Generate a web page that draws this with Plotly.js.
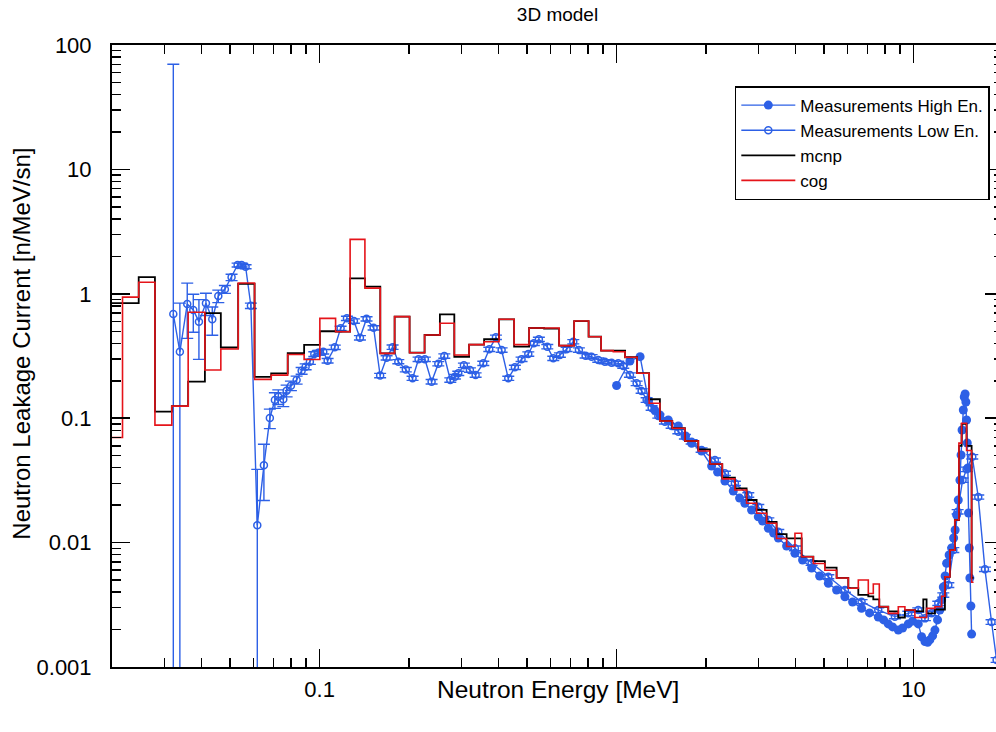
<!DOCTYPE html>
<html>
<head>
<meta charset="utf-8">
<script src="https://cdn.plot.ly/plotly-3.0.1.min.js"></script>
<style>html,body{margin:0;padding:0;overflow:hidden;background:#fff}</style>
</head>
<body>
<div id="chart"></div>
<script>
// ---- Measurements, low-energy detector (MeV, n/MeV/sn, error) ----
const lowEnergy = [0.03217,0.03385,0.03584,0.03756,0.03924,0.04143,0.04352,0.0456,0.04799,0.05054,
0.05296,0.05463,0.05634,0.05871,0.06169,0.06494,0.068,0.07071,0.07261,0.07548,
0.07744,0.08007,0.08368,0.087,0.08974,0.09275,0.09598,0.09899,0.1029,0.1064,
0.1125,0.1177,0.1236,0.1305,0.1367,0.1439,0.152,0.1599,0.1681,0.1761,
0.1841,0.1951,0.2056,0.2154,0.2262,0.2383,0.251,0.263,0.2755,0.2855,
0.2931,0.3061,0.3207,0.3352,0.3558,0.3727,0.3924,0.4101,0.4318,0.4545,
0.4787,0.5043,0.5266,0.5474,0.5843,0.6121,0.6443,0.6787,0.7148,0.7466,
0.7863,0.8237,0.8676,0.9134,0.962,1.013,1.053,1.109,1.168,1.214,
1.262,1.312,1.382,1.454,1.532,1.614,1.698,1.789,1.933,2.143,
2.316,2.502,2.776,3.0,3.243,3.503,3.985,4.535,5.163,5.871,
6.681,7.604,8.65,9.598,10.37,10.92,11.5,12.11,12.59,13.09,
13.61,14.07,14.62,15.08,15.76,16.51,17.39,18.3,19.03,19.8];
const lowFlux = [0.688,0.342,0.828,0.741,0.597,0.839,0.624,0.960,1.087,1.357,
1.704,1.704,1.651,0.802,0.01377,0.0418,0.1004,0.14,0.1489,0.1419,
0.1664,0.1825,0.2028,0.2408,0.2594,0.2846,0.3281,0.3361,0.3424,0.29,
0.3715,0.528,0.6354,0.6044,0.4428,0.6295,0.5329,0.2204,0.3059,0.3722,
0.2846,0.2458,0.2093,0.2976,0.2976,0.1965,0.2742,0.3162,0.2028,0.2157,
0.2296,0.2662,0.244,0.2225,0.2762,0.358,0.447,0.3533,0.2093,0.2565,
0.2976,0.3281,0.4,0.4307,0.3757,0.3031,0.3221,0.358,0.412,0.3533,
0.318,0.3122,0.2937,0.2846,0.2793,0.2762,0.2628,0.2225,0.1908,0.1655,
0.14,0.1208,0.1041,0.0937,0.0866,0.0779,0.071,0.0647,0.0555,0.0461,
0.0361,0.02997,0.02413,0.01943,0.0152,0.01224,0.009,0.00686,0.00532,0.00416,
0.00335,0.00287,0.00254,0.0027,0.00287,0.00246,0.0027,0.00325,0.00379,0.00456,
0.00872,0.0177,0.0318,0.0388,0.049,0.02326,0.0061,0.0023,0.00114,0.0007];
const lowError = [69.3,0.5,0.39,0.25,0.3,0.17,0.16,0.11,0.08,0.08,
0.06,0.06,0.06,0.04,0.025,0.02,0.018,0.02,0.02,0.018,
0.018,0.016,0.015,0.015,0.014,0.014,0.014,0.014,0.014,0.012,
0.015,0.02,0.025,0.024,0.018,0.025,0.021,0.009,0.012,0.015,
0.011,0.01,0.008,0.012,0.012,0.008,0.011,0.013,0.008,0.009,
0.009,0.011,0.01,0.009,0.011,0.014,0.018,0.014,0.008,0.01,
0.012,0.013,0.016,0.017,0.015,0.012,0.013,0.014,0.016,0.014,
0.013,0.012,0.012,0.011,0.011,0.011,0.011,0.009,0.008,0.007,
0.006,0.005,0.004,0.004,0.0035,0.003,0.003,0.0026,0.0022,0.0018,
0.0014,0.0012,0.001,0.0008,0.0006,0.0005,0.0004,0.0003,0.0002,0.00017,
0.00013,0.00012,0.0001,0.00011,0.00012,0.0001,0.00011,0.00013,0.00015,0.0002,
0.0004,0.0007,0.0013,0.0016,0.002,0.0009,0.00025,0.0001,0.00005,0.00003];

// ---- Measurements, high-energy detector ----
const highEnergy = [1.0,1.109,1.2,1.281,1.343,1.399,1.493,1.614,1.707,1.789,
1.933,2.089,2.188,2.316,2.471,2.595,2.704,2.848,3.0,3.101,
3.243,3.378,3.503,3.736,3.985,4.229,4.535,4.826,5.163,5.505,
5.871,6.232,6.681,7.109,7.604,7.925,8.219,8.498,8.882,9.183,
9.598,9.922,10.37,10.64,10.92,11.15,11.34,11.59,11.8,12.04,
12.26,12.43,12.59,12.77,12.92,13.17,13.43,13.64,13.8,13.96,
14.14,14.32,14.45,14.56,14.7,14.81,14.91,15.0,15.08,15.16,
15.23,15.31,15.4,15.47,15.59,15.68];
const highFlux = [0.1832,0.2884,0.3122,0.1375,0.1164,0.1061,0.0967,0.0866,0.0719,0.0628,
0.0545,0.0413,0.0369,0.0313,0.026,0.0228,0.0207,0.0183,0.01615,0.01492,
0.01303,0.01195,0.01089,0.00939,0.0082,0.00725,0.00625,0.00539,0.00471,0.00416,
0.00367,0.00333,0.00296,0.00272,0.00252,0.00239,0.00222,0.0021,0.00198,0.00206,
0.00222,0.00234,0.00222,0.00175,0.0016,0.00158,0.00165,0.00178,0.00198,0.00239,
0.00287,0.00346,0.0044,0.00539,0.00682,0.00795,0.00905,0.01089,0.01263,0.01667,
0.022,0.0318,0.0506,0.0804,0.1164,0.148,0.1565,0.135,0.0967,0.0632,
0.0398,0.0173,0.00905,0.00519,0.00309,0.00184];

// ---- Simulations: bin edges (MeV) and per-bin values ----
const binEdges = [0.0200,0.0217,0.0246,0.0279,0.0318,0.0361,0.0411,0.0465,0.0532,0.0604,
0.0687,0.0781,0.0887,0.1002,0.1132,0.1267,0.1421,0.1601,0.1789,0.2009,
0.2257,0.2541,0.2842,0.3187,0.3580,0.4021,0.4518,0.5075,0.5702,0.6405,
0.7195,0.8049,0.8868,0.9748,1.068,1.172,1.287,1.399,1.540,1.698,
1.884,2.062,2.269,2.502,2.740,2.961,3.200,3.457,3.737,3.986,
4.198,4.596,5.027,5.505,6.028,6.514,7.039,7.317,7.665,8.218,
8.881,9.348,10.10,10.78,11.06,11.80,12.43,12.75,13.25,13.77,
14.21,14.51,15.08,15.68,15.92];
const mcnpValues = [0.84,0.84,1.36,0.113,0.125,0.197,0.70,0.37,1.2,0.215,
0.229,0.333,0.388,0.50,0.496,1.33,1.14,0.332,0.655,0.336,
0.4665,0.684,0.312,0.39,0.431,0.624,0.376,0.531,0.525,0.383,
0.604,0.452,0.349,0.349,0.309,0.23,0.142,0.095,0.083,0.0656,
0.0562,0.0428,0.0332,0.0273,0.022,0.0183,0.0147,0.0117,0.0108,0.0108,
0.0077,0.0071,0.0063,0.0052,0.0043,0.0038,0.0037,0.0035,0.00305,0.0028,
0.0025,0.00287,0.0028,0.0035,0.0027,0.0029,0.0029,0.0053,0.0087,0.0152,
0.06,0.09,0.06,0.0052];
const cogValues = [0.07,0.94,1.24,0.088,0.125,0.71,0.244,0.36,1.22,0.205,
0.222,0.325,0.296,0.635,0.496,2.74,1.11,0.332,0.655,0.336,
0.4665,0.579,0.322,0.39,0.412,0.624,0.39,0.531,0.531,0.383,
0.604,0.452,0.349,0.342,0.309,0.23,0.132,0.095,0.083,0.0656,
0.0545,0.0428,0.0325,0.0265,0.0207,0.0172,0.0143,0.0108,0.0093,0.0119,
0.0077,0.0068,0.0060,0.0052,0.0043,0.0050,0.0039,0.00465,0.00305,0.0027,
0.00305,0.00287,0.0025,0.0025,0.00296,0.00305,0.0037,0.0053,0.0087,0.0152,
0.063,0.091,0.055,0.0048];

const BLUE = '#2d60e6';
const RED = '#e5141a';
const FONT = 'Liberation Sans, Arial, Helvetica, sans-serif';

function stepY(v){ return v.concat([v[v.length-1]]); }

const traces = [
  {
    name: 'Measurements Low En.', x: lowEnergy, y: lowFlux, type: 'scatter', mode: 'lines+markers',
    line: {color: BLUE, width: 1.4},
    marker: {symbol: 'circle-open', size: 7, color: BLUE, line: {width: 1.5, color: BLUE}},
    error_y: {type: 'data', array: lowError, symmetric: true, color: BLUE, thickness: 1.4, width: 6},
    legendrank: 2
  },
  {
    name: 'Measurements High En.', x: highEnergy, y: highFlux, type: 'scatter', mode: 'lines+markers',
    line: {color: BLUE, width: 1.4},
    marker: {symbol: 'circle', size: 9, color: BLUE},
    legendrank: 1
  },
  {
    name: 'mcnp', x: binEdges, y: stepY(mcnpValues), type: 'scatter', mode: 'lines',
    line: {color: '#000', width: 1.8, shape: 'hv'}, legendrank: 3
  },
  {
    name: 'cog', x: binEdges, y: stepY(cogValues), type: 'scatter', mode: 'lines',
    line: {color: RED, width: 1.6, shape: 'hv'}, legendrank: 4
  }
];

const axisCommon = {
  type: 'log', dtick: 1, tickformat: '~g',
  ticks: 'inside', ticklen: 18, tickwidth: 1.5, tickcolor: '#000',
  showline: true, linecolor: '#000', linewidth: 2, mirror: 'ticks',
  showgrid: false, zeroline: false,
  tickfont: {family: FONT, size: 22, color: '#000'},
  minor: {dtick: 'D1', ticks: 'inside', ticklen: 9, tickwidth: 1.5, tickcolor: '#000', showgrid: false}
};

const layout = {
  width: 1003, height: 732,
  margin: {l: 112, r: 0, t: 45, b: 65, pad: 0},
  paper_bgcolor: '#fff', plot_bgcolor: '#fff',
  font: {family: FONT, color: '#000'},
  title: {text: '3D model', font: {family: FONT, size: 19, color: '#000'},
          x: 0.5, xref: 'paper', xanchor: 'center', y: 0.99, yref: 'container', yanchor: 'top'},
  xaxis: Object.assign({}, axisCommon, {range: [Math.log10(0.02), Math.log10(20)], ticklabelstandoff: 2,
                                        labelalias: {'1': ' '}}),
  yaxis: Object.assign({}, axisCommon, {range: [-3, 2], ticklabelstandoff: 14}),
  showlegend: true,
  legend: {
    x: 0.699, y: 0.934, xanchor: 'left', yanchor: 'top',
    bgcolor: '#fff', bordercolor: '#000', borderwidth: 1.5,
    font: {family: FONT, size: 17, color: '#000'},
    itemwidth: 54, tracegroupgap: 0
  },
  annotations: [
    {text: 'Neutron Energy [MeV]', xref: 'paper', yref: 'paper', x: 0.5, y: -0.036,
     xanchor: 'center', yanchor: 'middle', showarrow: false, font: {family: FONT, size: 24.5, color: '#000'}},
    {text: 'Neutron Leakage Current [n/MeV/sn]', xref: 'paper', yref: 'paper', x: -0.102, y: 0.52,
     xanchor: 'center', yanchor: 'middle', textangle: -90, showarrow: false, font: {family: FONT, size: 24, color: '#000'}}
  ]
};

Plotly.newPlot('chart', traces, layout, {displayModeBar: false, staticPlot: true});
</script>
</body>
</html>
